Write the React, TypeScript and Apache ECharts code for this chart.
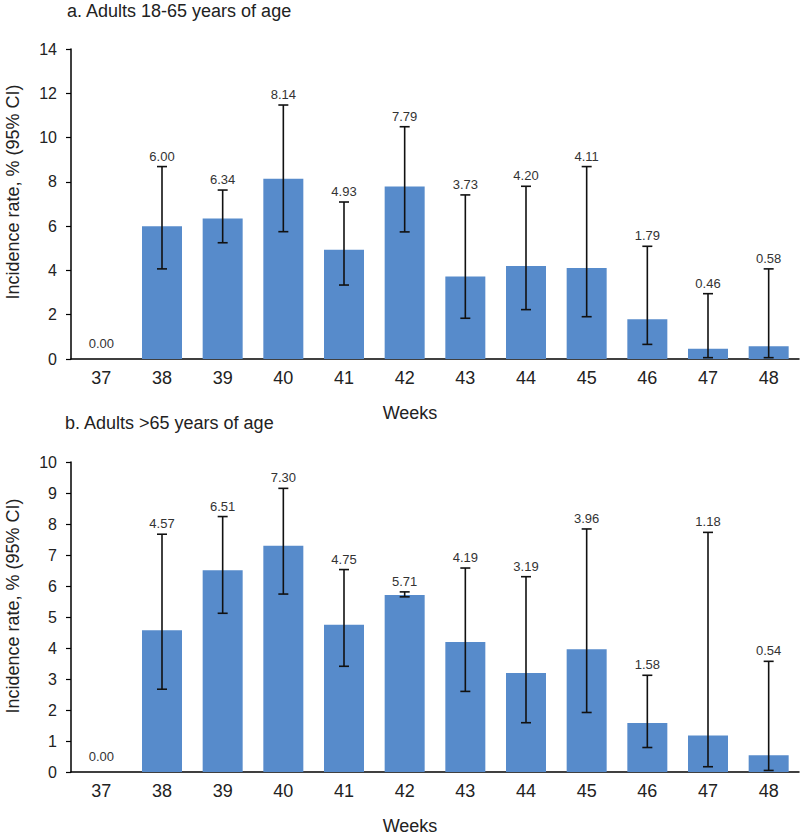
import React, { useEffect, useRef } from "react";
import * as echarts from "echarts";

const weeks = ["37", "38", "39", "40", "41", "42", "43", "44", "45", "46", "47", "48"];

const ratesA = [0.0, 6.0, 6.34, 8.14, 4.93, 7.79, 3.73, 4.2, 4.11, 1.79, 0.46, 0.58];
const lowA = [null, 4.07, 5.25, 5.75, 3.34, 5.74, 1.84, 2.23, 1.91, 0.66, 0.06, 0.06];
const highA = [null, 8.69, 7.63, 11.47, 7.09, 10.49, 7.41, 7.8, 8.69, 5.09, 2.95, 4.07];

const ratesB = [0.0, 4.57, 6.51, 7.3, 4.75, 5.71, 4.19, 3.19, 3.96, 1.58, 1.18, 0.54];
const lowB = [null, 2.67, 5.12, 5.74, 3.41, 5.65, 2.6, 1.59, 1.92, 0.79, 0.17, 0.05];
const highB = [null, 7.67, 8.24, 9.15, 6.53, 5.81, 6.58, 6.3, 7.84, 3.12, 7.73, 3.57];

const titleA = "a. Adults 18-65 years of age";
const titleB = "b. Adults >65 years of age";
const yName = "Incidence rate, % (95% CI)";
const xName = "Weeks";

const FONT = "'Liberation Sans', Arial, sans-serif";
const BAR = "#578BCB";
const ERR = "#111111";

function errData(rates: number[], low: (number | null)[], high: (number | null)[]) {
  return rates.map((r, i) => [i, low[i] == null ? NaN : low[i], high[i] == null ? NaN : high[i], r]);
}

function renderErr(params: any, api: any) {
  const idx = api.value(0);
  const lo = api.value(1);
  const hi = api.value(2);
  const rate = api.value(3);
  const children: any[] = [];
  const half = 5;
  const lineStyle = { stroke: ERR, lineWidth: 1.6 };
  let labelY: number;
  const x = api.coord([idx, 0])[0];
  if (isNaN(lo) || isNaN(hi)) {
    labelY = api.coord([idx, 0])[1] - 9;
  } else {
    const pl = api.coord([idx, lo]);
    const ph = api.coord([idx, hi]);
    children.push({ type: "line", shape: { x1: x, y1: pl[1], x2: x, y2: ph[1] }, style: lineStyle });
    children.push({ type: "line", shape: { x1: x - half, y1: pl[1], x2: x + half, y2: pl[1] }, style: lineStyle });
    children.push({ type: "line", shape: { x1: x - half, y1: ph[1], x2: x + half, y2: ph[1] }, style: lineStyle });
    labelY = ph[1] - 4;
  }
  children.push({
    type: "text",
    x: x,
    y: labelY,
    style: {
      text: rate.toFixed(2),
      fill: "#333333",
      font: `13px ${FONT}`,
      align: "center",
      verticalAlign: "bottom",
    },
  });
  return { type: "group", children };
}

export default function App() {
  const ref = useRef<HTMLDivElement>(null);
  useEffect(() => {
    document.body.style.margin = "0";
    if (!ref.current) return;
    const chart = echarts.init(ref.current, null, { renderer: "svg" });
    const axisLine = { lineStyle: { color: "#000", width: 1.5 } };
    const xAxisCommon = {
      type: "category",
      data: weeks,
      axisLine,
      axisTick: { show: false },
      axisLabel: { color: "#222", fontSize: 18, fontFamily: FONT, margin: 10 },
    };
    const yAxisCommon = {
      type: "value",
      min: 0,
      interval: 1,
      axisLine: { show: true, ...axisLine },
      axisTick: { show: true, length: 5, lineStyle: { color: "#000", width: 1.2 } },
      axisLabel: { color: "#222", fontSize: 16, fontFamily: FONT, margin: 14 },
      splitLine: { show: false },
    };
    const option: any = {
      animation: false,
      backgroundColor: "#ffffff",
      grid: [
        { left: 71, top: 49, width: 728, height: 310 },
        { left: 71, top: 462, width: 728, height: 310 },
      ],
      xAxis: [
        { ...xAxisCommon, gridIndex: 0 },
        { ...xAxisCommon, gridIndex: 1 },
      ],
      yAxis: [
        { ...yAxisCommon, gridIndex: 0, max: 14, interval: 2 },
        { ...yAxisCommon, gridIndex: 1, max: 10, interval: 1 },
      ],
      series: [
        {
          type: "bar",
          xAxisIndex: 0,
          yAxisIndex: 0,
          data: ratesA,
          barWidth: 40,
          itemStyle: { color: BAR },
        },
        {
          type: "custom",
          xAxisIndex: 0,
          yAxisIndex: 0,
          data: errData(ratesA, lowA, highA),
          encode: { x: 0, y: [1, 2] },
          renderItem: renderErr,
          z: 5,
        },
        {
          type: "bar",
          xAxisIndex: 1,
          yAxisIndex: 1,
          data: ratesB,
          barWidth: 40,
          itemStyle: { color: BAR },
        },
        {
          type: "custom",
          xAxisIndex: 1,
          yAxisIndex: 1,
          data: errData(ratesB, lowB, highB),
          encode: { x: 0, y: [1, 2] },
          renderItem: renderErr,
          z: 5,
        },
      ],
      graphic: [
        {
          type: "text",
          left: 67,
          top: 2,
          style: { text: titleA, fill: "#222", font: `18px ${FONT}` },
        },
        {
          type: "text",
          left: 65,
          top: 414,
          style: { text: titleB, fill: "#222", font: `18px ${FONT}` },
        },
        {
          type: "text",
          x: 410,
          y: 413,
          style: { text: xName, fill: "#222", font: `18px ${FONT}`, align: "center", verticalAlign: "middle" },
        },
        {
          type: "text",
          x: 410,
          y: 826,
          style: { text: xName, fill: "#222", font: `18px ${FONT}`, align: "center", verticalAlign: "middle" },
        },
        {
          type: "text",
          x: 13,
          y: 192,
          rotation: Math.PI / 2,
          style: { text: yName, fill: "#222", font: `18px ${FONT}`, align: "center", verticalAlign: "middle" },
        },
        {
          type: "text",
          x: 13,
          y: 606,
          rotation: Math.PI / 2,
          style: { text: yName, fill: "#222", font: `18px ${FONT}`, align: "center", verticalAlign: "middle" },
        },
      ],
    };
    chart.setOption(option);
    return () => chart.dispose();
  }, []);
  return <div ref={ref} style={{ width: 800, height: 837 }} />;
}
